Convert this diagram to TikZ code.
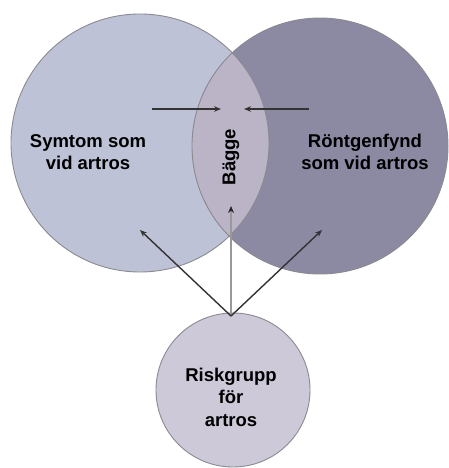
\documentclass[tikz,border=0pt]{standalone}
\usepackage{fontspec}
\setmainfont{Liberation Sans}
\usetikzlibrary{arrows.meta}
\definecolor{leftc}{HTML}{BEC2D6}
\definecolor{rightc}{HTML}{8C89A3}
\definecolor{lensc}{HTML}{BBB3C6}
\definecolor{botc}{HTML}{CDC9D9}
\definecolor{edgec}{HTML}{8A8A90}
\tikzset{
  lbl/.style={font=\bfseries\fontsize{18.5}{22.5}\selectfont, align=center, text=black},
  arr/.style={draw=black!80, line width=1.4pt, -{Stealth[length=7pt,width=5.5pt]}},
  varr/.style={draw=black!40, line width=2.6pt, -{Stealth[length=7pt,width=6pt,color=black!85]}},
  circ/.style={draw=edgec, line width=0.9pt}
}
\begin{document}
\begin{tikzpicture}[x=1pt,y=-1pt]
\useasboundingbox (0,0) rectangle (448,468);
% fills
\fill[leftc] (140,143) circle (129);
\fill[rightc] (320,146) circle (128);
\begin{scope}
  \clip (140,143) circle (129);
  \fill[lensc] (320,146) circle (128);
\end{scope}
\draw[circ] (140,143) circle (129);
\draw[circ] (320,146) circle (128);
\node[circ, circle, fill=botc, minimum size=154pt, inner sep=0pt] (risk) at (233,390) {};
\node[lbl] (risktxt) at (231,397) {Riskgrupp\\för\\artros};
\node[lbl] (sym) at (88,152) {Symtom som\\vid artros};
\node[lbl] (ront) at (365,152) {Röntgenfynd\\som vid artros};
\node[lbl, rotate=90] (bagge) at (231,157) {Bägge};
% arrow anchors
\coordinate (start) at (231,316);
\coordinate (la) at (152,109);
\coordinate (lb) at (221,109);
\coordinate (ra) at (309,109);
\coordinate (rb) at (244,109);
\coordinate (tl) at (140,230);
\coordinate (tr) at (322,230);
\coordinate (tv) at (231,206);
\draw[arr] (la) -- (lb);
\draw[arr] (ra) -- (rb);
\draw[varr] (start) -- (tv);
\draw[arr] (start) -- (tl);
\draw[arr] (start) -- (tr);
\end{tikzpicture}
\end{document}
